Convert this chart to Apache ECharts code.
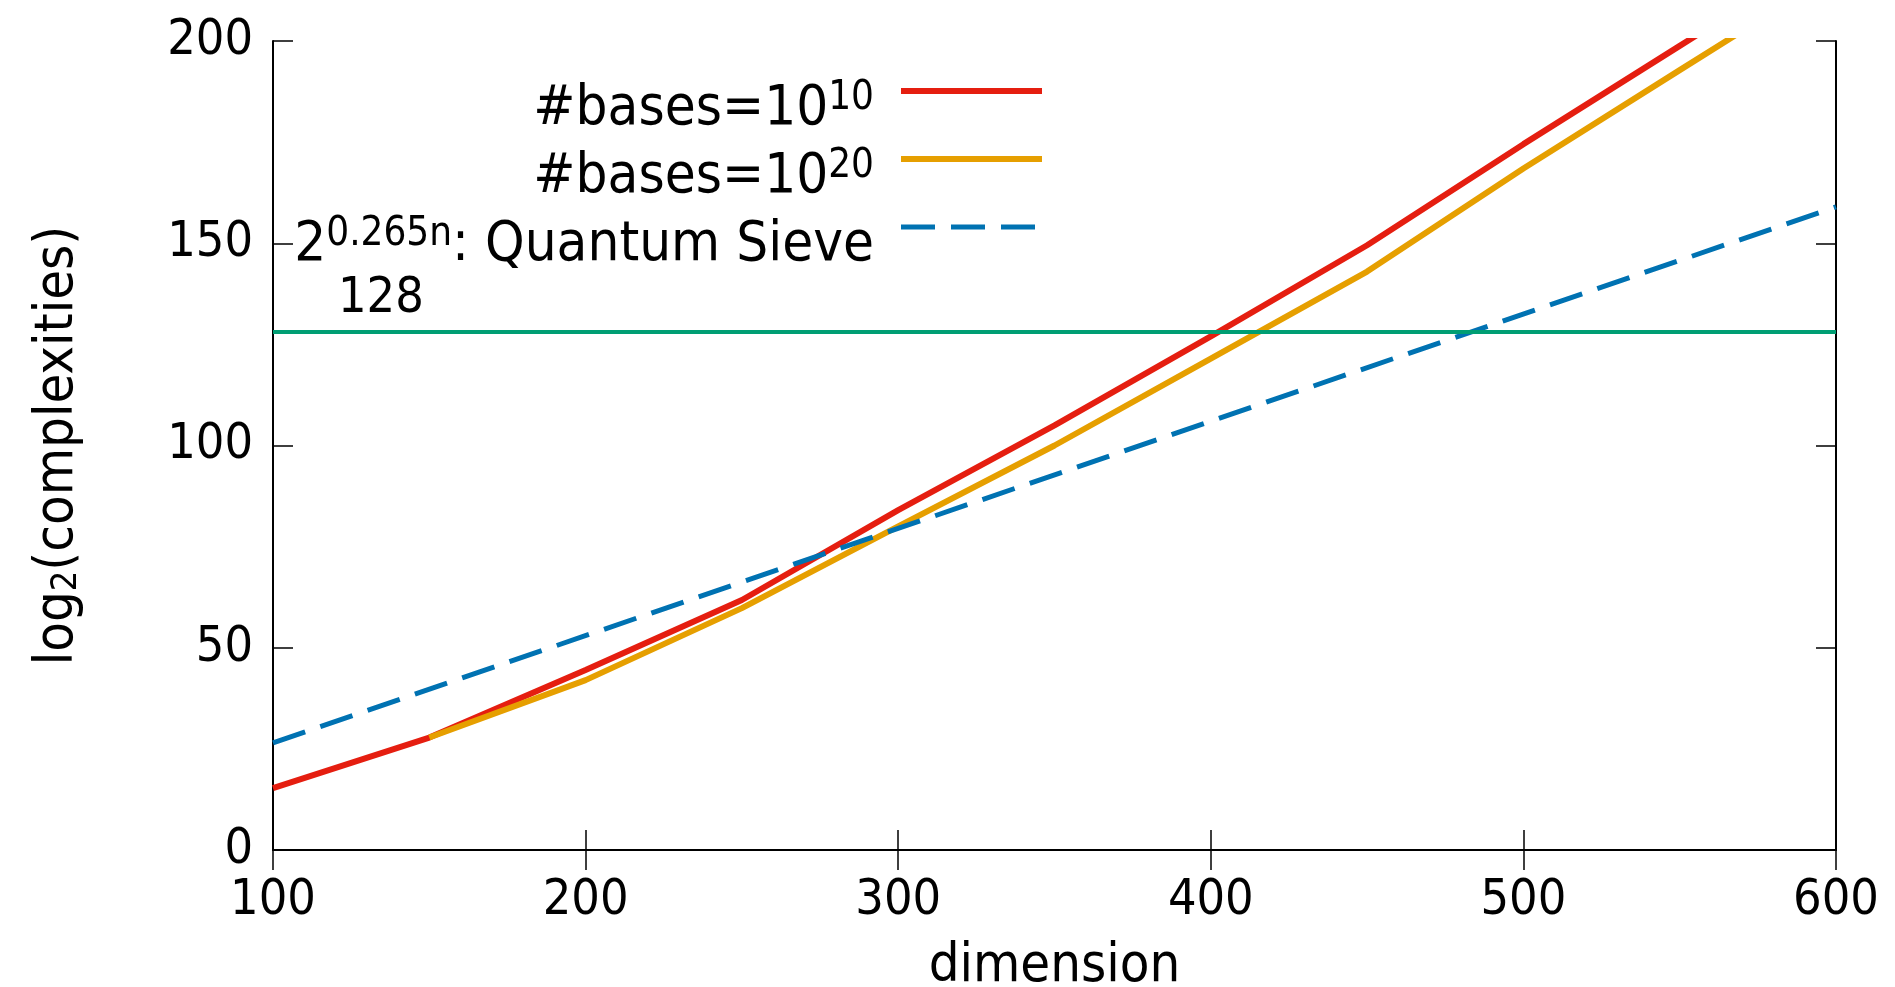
<!DOCTYPE html>
<html>
<head>
<meta charset="utf-8">
<script src="https://cdn.jsdelivr.net/npm/echarts@6/dist/echarts.min.js"></script>
<style>
  html, body { margin: 0; padding: 0; background: #fff; }
  #chart { width: 1895px; height: 987px; }
</style>
</head>
<body>
<div id="chart"></div>
<script>
// values
const dims = [100, 150, 200, 250, 300, 350, 400, 450, 500, 550, 600];
const bases10 = [15.3, 27.8, 44.5, 61.8, 84, 105, 127, 149.5, 174.5, 198.8, 223];
const bases20 = [null, 27.8, 42, 59.8, 80, 100, 121.5, 143, 168.5, 192.8, 217];
const sieveDims = [100, 600];
const sieveVals = [26.5, 159];
const level = 128;
const xTicks = [100, 600, 100]; // min, max, step
const yTicks = [0, 200, 50];

const legendText = {
  b10: '#bases=10{sup|10}',
  b20: '#bases=10{sup|20}',
  qs: '2{sup|0.265n}: Quantum Sieve'
};

const font = 'DejaVu Sans Condensed';
const pairs = (xs, ys) => xs.map((x, i) => [x, ys[i]]);

const chart = echarts.init(document.getElementById('chart'));

const tick = { show: true, inside: true, length: 20, lineStyle: { color: '#000', width: 1.5 } };
const axisLine = { show: true, lineStyle: { color: '#000', width: 2 } };

const option = {
  animation: false,
  backgroundColor: '#fff',
  grid: { left: 273, right: 59, top: 41, bottom: 137, containLabel: false, outerBoundsMode: 'none' },
  legend: {
    orient: 'vertical',
    align: 'right',
    right: 845,
    top: 38,
    itemWidth: 141,
    itemHeight: 14,
    itemGap: -28,
    data: ['b10', 'b20', 'qs'],
    formatter: name => legendText[name],
    itemStyle: { opacity: 0 },
    lineStyle: { width: 'inherit' },
    textStyle: {
      fontFamily: font,
      fontSize: 56,
      lineHeight: 60,
      color: '#000',
      padding: [36, 22, 0, 0],
      rich: {
        sup: { fontFamily: font, fontSize: 40, verticalAlign: 'top', padding: [0, 0, 26, 0] }
      }
    }
  },
  xAxis: [{
    type: 'value', min: xTicks[0], max: xTicks[1], interval: xTicks[2],
    name: 'dimension', nameLocation: 'middle', nameGap: 90,
    nameTextStyle: { fontFamily: font, fontSize: 54, color: '#000' },
    axisLine, axisTick: tick, splitLine: { show: false },
    axisLabel: { fontFamily: font, fontSize: 50, color: '#000', margin: 26 }
  }, {
    type: 'value', position: 'top', min: xTicks[0], max: xTicks[1], interval: xTicks[2],
    axisLine, axisTick: tick, splitLine: { show: false }, axisLabel: { show: false }
  }],
  yAxis: [{
    type: 'value', min: yTicks[0], max: yTicks[1], interval: yTicks[2],
    name: 'log{sub|2}(complexities)', nameLocation: 'middle', nameGap: 188,
    nameTextStyle: {
      fontFamily: font, fontSize: 54, color: '#000',
      rich: { sub: { fontFamily: font, fontSize: 36, verticalAlign: 'bottom', padding: [18, 0, 0, 0] } }
    },
    axisLine, axisTick: tick, splitLine: { show: false },
    axisLabel: { fontFamily: font, fontSize: 50, color: '#000', margin: 20 }
  }, {
    type: 'value', position: 'right', min: yTicks[0], max: yTicks[1], interval: yTicks[2],
    axisLine, axisTick: tick, splitLine: { show: false }, axisLabel: { show: false }
  }],
  series: [
    {
      name: 'b10', type: 'line', data: pairs(dims, bases10), symbol: 'none',
      lineStyle: { color: '#e51e10', width: 6 }, itemStyle: { color: '#e51e10' }
    },
    {
      name: 'b20', type: 'line', data: pairs(dims, bases20), symbol: 'none',
      lineStyle: { color: '#e69f00', width: 6 }, itemStyle: { color: '#e69f00' }
    },
    {
      name: 'qs', type: 'line', data: pairs(sieveDims, sieveVals), symbol: 'none',
      lineStyle: { color: '#0072b2', width: 5, type: [34, 16] }, itemStyle: { color: '#0072b2' }
    },
    {
      name: 'level', type: 'line', data: [], symbol: 'none',
      markLine: {
        silent: true, symbol: 'none',
        lineStyle: { color: '#009e73', width: 4, type: 'solid' },
        label: {
          position: 'insideStartTop', formatter: String(level),
          fontFamily: font, fontSize: 50, color: '#000', distance: [65, 8]
        },
        data: [{ yAxis: level }]
      }
    }
  ]
};

chart.setOption(option);
window.addEventListener('resize', function () {
  chart.resize();
});
</script>
</body>
</html>
